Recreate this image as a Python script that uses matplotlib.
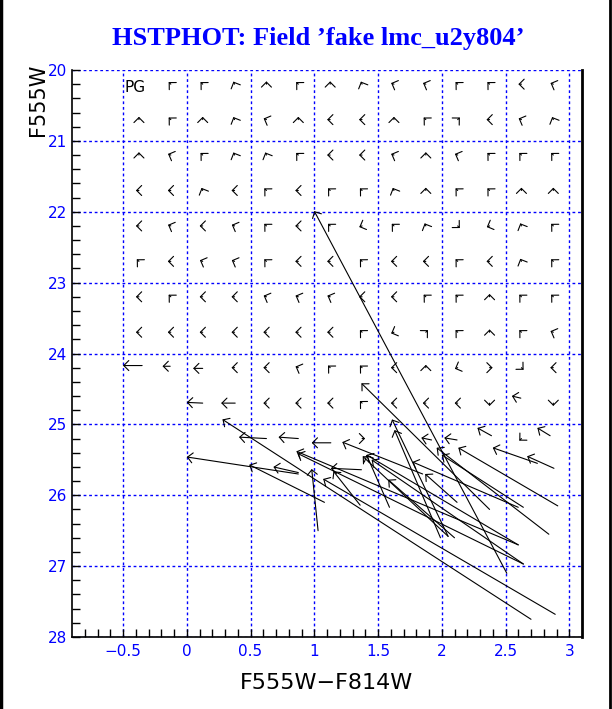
import matplotlib
matplotlib.use('Agg')
import matplotlib.pyplot as plt
from matplotlib.lines import Line2D

# grid of input stars (colour, magnitude) for the short arrows
grid_col = [-0.375, -0.125, 0.125, 0.375, 0.625, 0.875, 1.125,
            1.375, 1.625, 1.875, 2.125, 2.375, 2.625, 2.875]
grid_mag = [20.2, 20.7, 21.2, 21.7, 22.2, 22.7, 23.2, 23.7, 24.2, 24.7, 25.2]

# direction of the (tiny) shift at every grid star, '.' = no short arrow
grid_dir = [
    ". NW NW NNW N NW N NNW WNW WNW NW NW W WNW",
    "N NW N NNW WNW N W W N NW NE W WNW NNW",
    "N WNW NW NNW NNW NW W W WNW N WNW NW NW NW",
    "W W NNW W NW W NW NW NNW N NW NW N N",
    "W WNW W WNW NW W NW WSW NW NNW SE WSW NNW NW",
    "NW W WNW WNW NW W W NW W W NW W NNW NW",
    "W NW W W WNW WNW WNW W W NW NW N NW NW",
    "W W W W W W W NW WSW NE NW N NW WNW",
    ". . . W W WNW NW NW W N WSW E SE W",
    ". . . . W W W NW W W W S . S",
    ". . . . . . . E . . . . SW .",
]

# size of a tiny shift in data units (colour, mag)
shift = {'N': (0, -0.04), 'NNW': (-0.009, -0.037), 'NW': (-0.017, -0.03),
         'WNW': (-0.022, -0.016), 'W': (-0.024, 0), 'WSW': (-0.022, 0.016),
         'SW': (-0.017, 0.03), 'S': (0, 0.04), 'SE': (0.017, 0.03),
         'E': (0.024, 0), 'NE': (0.017, -0.03)}

# stars with a visible shift: input -> recovered
col_in = [-0.35, -0.13, 0.125, 0.125, 0.38, 2.62, 0.625, 0.875, 1.13, 1.92,
          2.12, 2.39, 2.85, 2.51, 2.375, 2.70, 0.875, 0.875, 1.08, 1.03,
          2.6, 2.64, 2.89, 2.84, 2.05, 1.99, 2.91, 2.75, 2.88, 2.64,
          1.59, 1.37, 1.36, 2.6, 2.64, 2.05, 2.12, 2.6, 2.1, 1.85]
mag_in = [24.17, 24.18, 24.21, 24.7, 24.7, 24.63, 25.2, 25.2, 25.26, 25.22,
          25.22, 25.16, 25.16, 27.1, 26.2, 27.75, 25.7, 25.68, 26.1, 26.5,
          26.7, 26.97, 27.68, 26.55, 26.58, 26.6, 26.15, 25.55, 25.62, 26.17,
          26.17, 25.64, 26.14, 26.7, 26.97, 26.58, 26.1, 26.17, 26.6, 25.7]
col_out = [-0.5, -0.19, 0.05, 0.0, 0.27, 2.55, 0.41, 0.72, 0.98, 1.84,
           2.02, 2.28, 2.75, 1.0, 1.37, 0.28, 0.0, 0.68, 0.49, 0.98,
           0.86, 0.87, 1.07, 1.96, 1.61, 1.63, 2.13, 2.40, 2.67, 2.0,
           1.41, 1.13, 1.15, 1.41, 1.45, 1.38, 1.87, 1.77, 1.58, 1.22]
mag_out = [24.17, 24.18, 24.21, 24.69, 24.7, 24.6, 25.18, 25.18, 25.26, 25.19,
           25.19, 25.05, 25.05, 21.99, 24.42, 24.93, 25.46, 25.6, 25.57, 25.63,
           25.38, 25.41, 25.77, 25.33, 24.93, 25.08, 25.33, 25.33, 25.45, 25.43,
           25.43, 25.62, 25.66, 25.43, 25.5, 25.45, 25.7, 25.53, 25.78, 25.25]

x_ticks = [-0.5, 0, 0.5, 1, 1.5, 2, 2.5, 3]
x_labels = ['\u22120.5', '0', '0.5', '1', '1.5', '2', '2.5', '3']
y_ticks = [20, 21, 22, 23, 24, 25, 26, 27, 28]

blue = '#0000ff'
arrow = dict(arrowstyle='->,head_length=0.3,head_width=0.3', lw=0.8,
             color='black', shrinkA=0, shrinkB=0, mutation_scale=12)

fig = plt.figure(figsize=(6.12, 7.09), dpi=100)
ax = fig.add_axes([72 / 612, 1 - 637 / 709, 510 / 612, 567 / 709])
ax.set_xlim(-0.9, 3.1)
ax.set_ylim(28, 20)

# short arrows on the grid
for i, row in enumerate(grid_dir):
    for j, d in enumerate(row.split()):
        if d == '.':
            continue
        dx, dy = shift[d]
        x0, y0 = grid_col[j], grid_mag[i]
        ax.annotate('', xy=(x0 + dx, y0 + dy), xytext=(x0, y0), arrowprops=arrow)

# longer arrows
for a, b, c, d in zip(col_in, mag_in, col_out, mag_out):
    ax.annotate('', xy=(c, d), xytext=(a, b), arrowprops=arrow)

ax.text(-0.49, 20.25, 'PG', fontsize=11, color='black', va='center')

ax.set_xticks(x_ticks)
ax.set_xticklabels(x_labels)
ax.set_yticks(y_ticks)
ax.set_xticks([v / 10 for v in range(-8, 31)], minor=True)
ax.set_yticks([20 + v / 5 for v in range(0, 41)], minor=True)
ax.tick_params(which='both', direction='in', length=6, width=1, colors='black',
               labelcolor=blue, labelsize=11, top=False, right=False)
ax.tick_params(axis='x', pad=5)
ax.grid(True, which='major', color=blue, linestyle=(0, (2, 2)), linewidth=1)
ax.set_axisbelow(True)

ax.spines['top'].set_visible(False)
for s in ['left', 'bottom']:
    ax.spines[s].set_linewidth(1.2)
ax.spines['right'].set_linewidth(2)

ax.set_xlabel('F555W\u2212F814W', fontsize=16, labelpad=10)
fig.text(38 / 612, 1 - 100 / 709, 'F555W', rotation=90, fontsize=15,
         ha='center', va='center')
fig.text(318 / 612, 1 - 38 / 709, 'HSTPHOT: Field \u2019fake lmc_u2y804\u2019',
         fontsize=19, fontweight='bold', family='Liberation Serif', color=blue,
         ha='center', va='center')

# page frame
fig.add_artist(Line2D([0.002, 0.002], [0, 1], color='black', lw=2.5))
fig.add_artist(Line2D([0.996, 0.996], [0, 1], color='black', lw=2))

fig.savefig('out.png', dpi=100)
